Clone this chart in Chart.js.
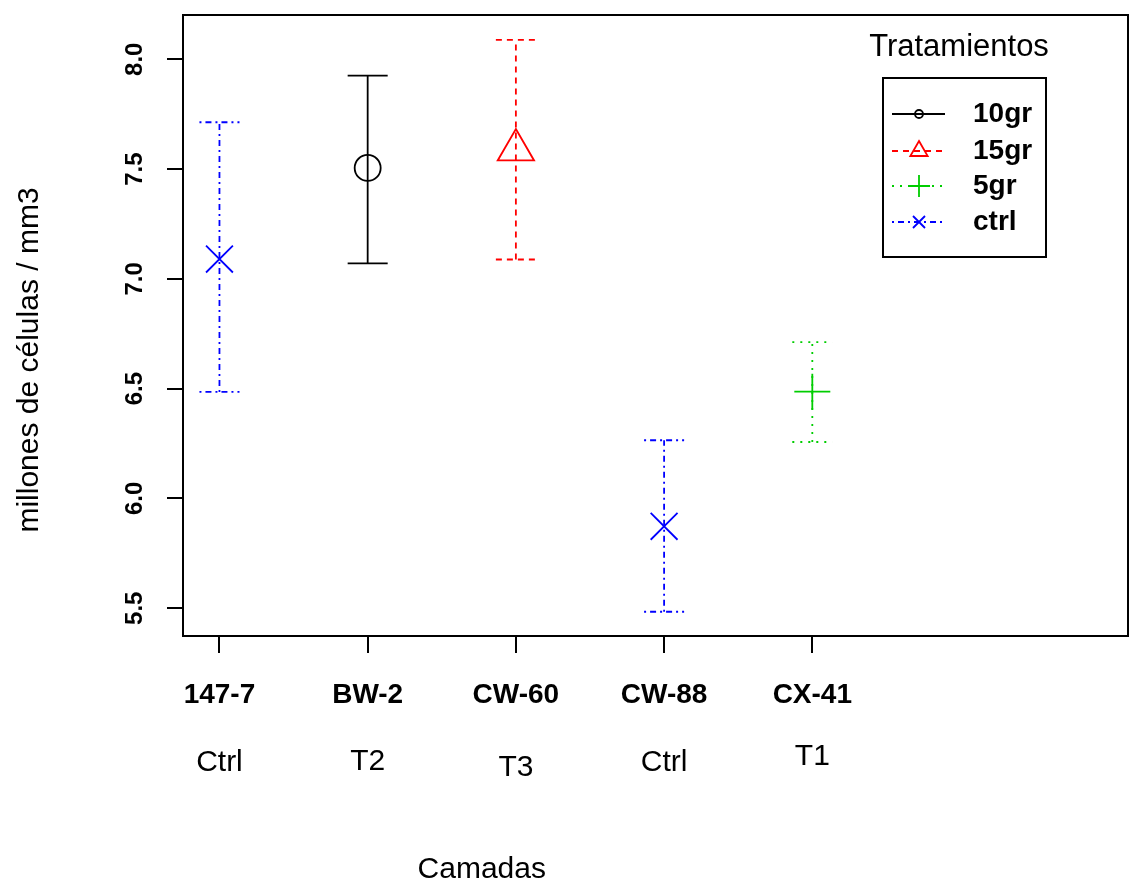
<!DOCTYPE html>
<html><head><meta charset="utf-8">
<script src="https://cdn.jsdelivr.net/npm/chart.js@4.4.0/dist/chart.umd.min.js"></script>
<style>html,body{margin:0;padding:0;background:#fff}#wrap{width:1130px;height:884px;position:relative}</style>
</head><body><div id="wrap"><canvas id="c" width="1130" height="884"></canvas></div>
<script>
// ---- data ----
const camadas = ['147-7', 'BW-2', 'CW-60', 'CW-88', 'CX-41'];
const grupos = ['Ctrl', 'T2', 'T3', 'Ctrl', 'T1'];
const tratamiento = ['ctrl', '10gr', '15gr', 'ctrl', '5gr'];
const medias = [7.09, 7.505, 7.587, 5.873, 6.486];
const inferior = [6.485, 7.07, 7.088, 5.484, 6.257];
const superior = [7.713, 7.925, 8.088, 6.265, 6.712];
const yTicks = [5.5, 6.0, 6.5, 7.0, 7.5, 8.0];
const legendOrder = ['10gr', '15gr', '5gr', 'ctrl'];

// ---- styles ----
const estilos = {
  '10gr': {color: '#000000', dash: [], point: 'circle', r: 13, lr: 4},
  '15gr': {color: '#FF0000', dash: [6, 5], point: 'triangle', r: 21, lr: 10},
  '5gr':  {color: '#00CD00', dash: [2, 6], point: 'cross', r: 18, lr: 11},
  'ctrl': {color: '#0000FF', dash: [2, 4, 6, 4], point: 'crossRot', r: 19, lr: 8.5}
};
const rowOffsets = [0, -1, 5, 0, -6]; // second label row vertical nudges (px)
const capW = 0.135;
const LW = 1.8;
const FW = 2;

const datasets = [];
camadas.forEach((c, i) => {
  const st = estilos[tratamiento[i]];
  const x = i + 1;
  const lineBase = {showLine: true, borderColor: st.color, borderWidth: LW, borderDash: st.dash,
    pointRadius: 0, pointHoverRadius: 0, fill: false, tension: 0};
  datasets.push(Object.assign({label: c + ' bar', data: [{x: x, y: inferior[i]}, {x: x, y: superior[i]}]}, lineBase));
  datasets.push(Object.assign({label: c + ' capHi', data: [{x: x - capW, y: superior[i]}, {x: x + capW, y: superior[i]}]}, lineBase));
  datasets.push(Object.assign({label: c + ' capLo', data: [{x: x - capW, y: inferior[i]}, {x: x + capW, y: inferior[i]}]}, lineBase));
  datasets.push({label: c, data: [{x: x, y: medias[i]}], showLine: false,
    pointStyle: st.point, pointRadius: st.r, pointHoverRadius: st.r, pointBorderWidth: LW,
    pointBorderColor: st.color, pointBackgroundColor: 'rgba(0,0,0,0)', borderColor: st.color});
});

const FONT = '"Liberation Sans", Arial, sans-serif';

const decor = {
  id: 'decor',
  afterDraw(chart) {
    const ctx = chart.ctx, a = chart.chartArea;
    const xs = chart.scales.x, ys = chart.scales.y;
    ctx.save();
    ctx.strokeStyle = '#000'; ctx.lineWidth = FW; ctx.setLineDash([]);
    ctx.strokeRect(a.left, a.top, a.right - a.left, a.bottom - a.top);
    ctx.fillStyle = '#000';
    // y tick labels (rotated)
    ctx.font = 'bold 24px ' + FONT;
    ctx.textAlign = 'center'; ctx.textBaseline = 'middle';
    yTicks.forEach(v => {
      const py = ys.getPixelForValue(v);
      ctx.save(); ctx.translate(a.left - 48, py); ctx.rotate(-Math.PI / 2);
      ctx.fillText(v.toFixed(1), 0, 0); ctx.restore();
    });
    // x labels
    camadas.forEach((c, i) => {
      const px = xs.getPixelForValue(i + 1);
      ctx.font = 'bold 28px ' + FONT;
      ctx.fillText(c, px, a.bottom + 59);
      ctx.font = '30px ' + FONT;
      ctx.fillText(grupos[i], px, a.bottom + 127 + rowOffsets[i]);
    });
    // axis titles
    ctx.font = '30px ' + FONT;
    ctx.fillText('Camadas', xs.getPixelForValue(2.77), a.bottom + 234);
    ctx.save(); ctx.translate(30, 360); ctx.rotate(-Math.PI / 2);
    ctx.fillText('millones de células / mm3', 0, 0); ctx.restore();
    // legend
    const bx = 883, by = 78, bw = 163, bh = 179;
    ctx.font = '31px ' + FONT;
    ctx.fillText('Tratamientos', 959, 47);
    ctx.lineWidth = FW;
    ctx.strokeRect(bx, by, bw, bh);
    const rows = [114, 151, 186, 222];
    legendOrder.forEach((k, j) => {
      const st = estilos[k], y = rows[j];
      ctx.lineWidth = LW;
      ctx.strokeStyle = st.color; ctx.setLineDash(st.dash);
      ctx.beginPath(); ctx.moveTo(892, y); ctx.lineTo(945, y); ctx.stroke();
      ctx.setLineDash([]);
      ctx.fillStyle = 'rgba(0,0,0,0)';
      Chart.helpers.drawPoint(ctx, {pointStyle: st.point, radius: st.lr, rotation: 0, borderWidth: LW}, 919, y);
      ctx.fillStyle = '#000';
      ctx.font = 'bold 28px ' + FONT; ctx.textAlign = 'left';
      ctx.fillText(k, 973, y);
      ctx.textAlign = 'center';
    });
    ctx.restore();
  }
};

new Chart(document.getElementById('c'), {
  type: 'scatter',
  data: {datasets: datasets},
  options: {
    responsive: false, animation: false,
    layout: {autoPadding: false, padding: {top: 15, right: 2, left: 0, bottom: 0}},
    plugins: {legend: {display: false}, tooltip: {enabled: false}},
    scales: {
      x: {type: 'linear', min: 0.754, max: 7.13,
        afterBuildTicks: s => { s.ticks = camadas.map((_, i) => ({value: i + 1})); },
        afterFit: s => { s.height = 248; },
        ticks: {display: false},
        grid: {drawOnChartArea: false, drawTicks: true, tickLength: 17, color: '#000', lineWidth: FW},
        border: {display: true, color: '#000', width: FW}},
      y: {type: 'linear', min: 5.3735, max: 8.2015,
        afterBuildTicks: s => { s.ticks = yTicks.map(v => ({value: v})); },
        afterFit: s => { s.width = 183; },
        ticks: {display: false},
        grid: {drawOnChartArea: false, drawTicks: true, tickLength: 16, color: '#000', lineWidth: FW},
        border: {display: true, color: '#000', width: FW}}
    }
  },
  plugins: [decor]
});
</script>
</body></html>
